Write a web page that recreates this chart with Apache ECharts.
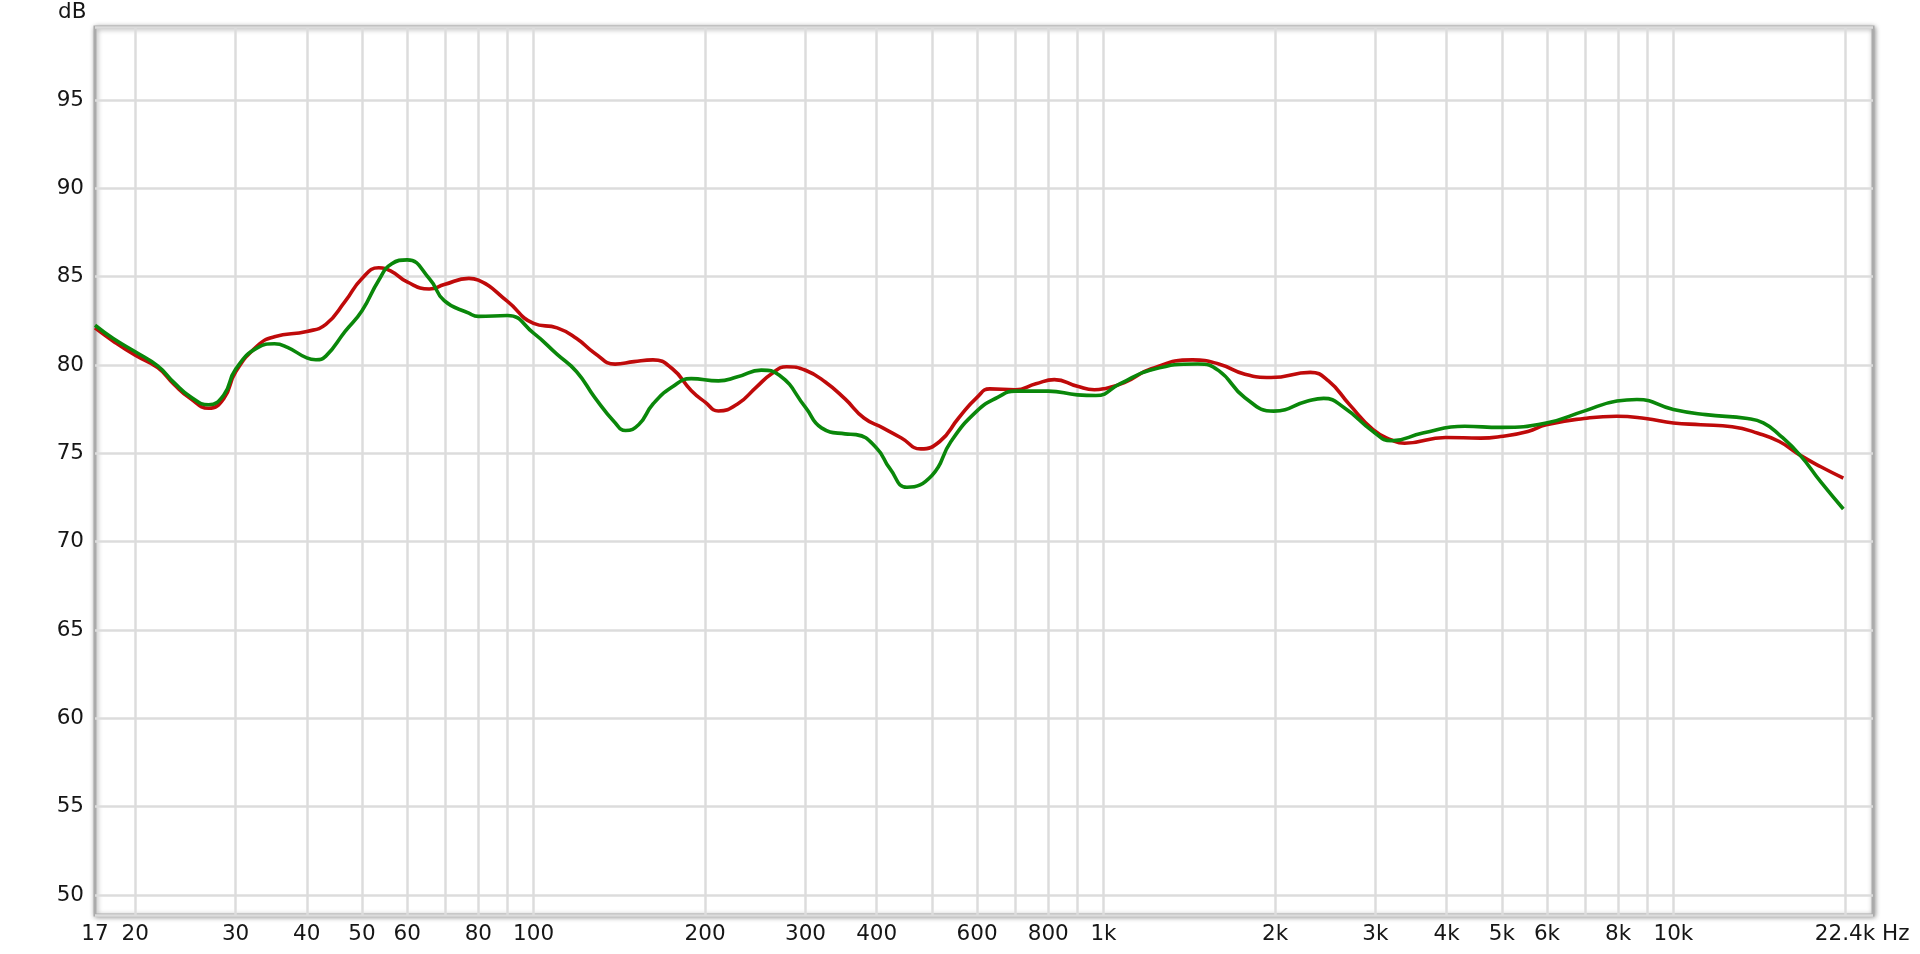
<!DOCTYPE html>
<html>
<head>
<meta charset="utf-8">
<script src="https://cdn.jsdelivr.net/npm/echarts@6/dist/echarts.min.js"></script>
<style>
html,body{margin:0;padding:0;background:#fff;}
#chart{width:1920px;height:954px;}
</style>
</head>
<body>
<div id="chart"></div>
<script>
// Frequency response data (Hz, dB)
const redFreq = [17,18.3,20,21.9,23.4,25,26.9,28.6,30,32.8,35.1,40,43.2,46.7,50,53.5,56.3,60,65.6,69.7,77,80,90,100,110,119,128,139,150,162,175,189,200,211,228,246,262,278,300,325,352,380,410,442,478,516,557,600,632,700,761,820,900,964,1000,1088,1210,1433,1593,1771,1968,2306,2482,2700,2972,3201,3376,3985,4590,4972,5555,5983,6967,7960,8937,10000,11167,12680,14070,15340,16680,18140,19870];
const redDb = [82.1,81.35,80.55,79.85,78.9,78.1,77.55,78.1,79.6,81.1,81.6,81.9,82.3,83.6,84.9,85.5,85.3,84.7,84.3,84.55,84.9,84.8,83.6,82.35,82.1,81.5,80.67,80.05,80.19,80.29,79.8,78.56,77.9,77.4,77.79,78.75,79.52,79.9,79.7,79.04,78.08,77.0,76.44,75.87,75.25,75.67,77.0,78.17,78.65,78.6,78.94,79.17,78.79,78.6,78.65,79.0,79.77,80.29,80.06,79.48,79.29,79.58,79.1,77.77,76.34,75.76,75.57,75.9,75.86,75.95,76.24,76.62,76.97,77.1,76.97,76.72,76.62,76.5,76.14,75.67,74.9,74.24,73.6];

const greenFreq = [17,18.3,20,21.9,23.4,25,26.9,28.6,30,32.8,35.1,37,40,41.5,43.2,46.7,50,53.5,56.3,60,65.6,69.7,77,80,90,100,110,119,128,139,145,153,162,175,189,211,228,251,270,300,320,352,368,400,422,452,500,540,600,652,700,800,900,970,1070,1210,1464,1593,1771,1990,2283,2434,2645,2972,3201,3633,4302,4972,5983,6967,7960,8630,10000,11400,13490,14380,15340,16680,18140,19870];
const greenDb = [82.25,81.5,80.75,79.95,79.0,78.2,77.75,78.3,79.75,80.98,81.2,81.0,80.4,80.3,80.5,81.9,83.07,84.8,85.72,85.95,84.9,83.64,82.93,82.75,82.8,81.8,80.6,79.62,78.17,76.73,76.29,76.63,77.79,78.75,79.23,79.1,79.33,79.71,79.42,77.6,76.44,76.1,76.06,75.29,74.13,73.08,73.75,75.67,77.4,78.17,78.52,78.52,78.31,78.27,78.94,79.71,80.06,79.68,78.15,77.39,77.96,78.11,77.58,76.24,75.71,76.15,76.53,76.47,76.72,77.39,77.96,78.05,77.48,77.19,76.97,76.72,76.05,74.9,73.38,71.85];

// Axis ticks
const gridFreqs = [20,30,40,50,60,70,80,90,100,200,300,400,500,600,700,800,900,1000,2000,3000,4000,5000,6000,7000,8000,9000,10000,20000];
const labelFreqs = [17,20,30,40,50,60,80,100,200,300,400,600,800,1000,2000,3000,4000,5000,6000,8000,10000,20000];
const labelTexts = ['17','20','30','40','50','60','80','100','200','300','400','600','800','1k','2k','3k','4k','5k','6k','8k','10k','22.4k'];
const xMin = 17, xMax = 22400;
const yMin = 48.87, yMax = 99.13;

const FONT = 'DejaVu Sans';
const TXT = '#161616';
const FS = 21.5;

function pairs(xs, ys){ return xs.map((x,i)=>[x, ys[i]]); }

const lineData = [];
const allFreqs = Array.from(new Set(gridFreqs.concat(labelFreqs))).sort((a,b)=>a-b);
allFreqs.forEach(f => {
  const li = labelFreqs.indexOf(f);
  const isGrid = gridFreqs.indexOf(f) >= 0;
  lineData.push({
    xAxis: f,
    lineStyle: { color: isGrid ? '#dcdcdc' : 'rgba(0,0,0,0)', width: 2.5, type: 'solid' },
    label: li >= 0 ? {
      show: true, formatter: labelTexts[li], position: 'start', distance: 8,
      color: TXT, fontSize: FS, fontFamily: FONT
    } : { show: false }
  });
});

const chart = echarts.init(document.getElementById('chart'), null, {renderer: 'canvas'});
chart.setOption({
  animation: false,
  backgroundColor: '#ffffff',
  graphic: [{
    type: 'text', left: 58, top: 1, silent: true,
    style: {text: 'dB', fontSize: FS, fontFamily: FONT, fill: TXT}
  }],
  grid: {
    left: 95, right: 47, top: 27, bottom: 39,
    show: true, backgroundColor: '#ffffff',
    borderColor: '#ababab', borderWidth: 3,
    shadowBlur: 5, shadowColor: 'rgba(0,0,0,0.35)', shadowOffsetX: 1, shadowOffsetY: 1
  },
  xAxis: {
    type: 'log', logBase: 10, min: xMin, max: xMax,
    axisLine: {show: false}, axisTick: {show: false},
    axisLabel: {show: false}, splitLine: {show: false}, minorSplitLine: {show: false},
    name: 'Hz', nameLocation: 'end', nameGap: 9,
    nameTextStyle: {fontSize: FS, fontFamily: FONT, color: TXT, verticalAlign: 'top', align: 'left', padding: [8,0,0,0]}
  },
  yAxis: {
    type: 'value', min: yMin, max: yMax, splitNumber: 10, minInterval: 5, maxInterval: 5,
    axisLine: {show: false}, axisTick: {show: false},
    axisLabel: {fontSize: FS, fontFamily: FONT, color: TXT, margin: 11, showMinLabel: false, showMaxLabel: false},
    splitLine: {show: true, lineStyle: {color: '#dcdcdc', width: 2.5}}
  },
  series: [
    {
      type: 'line', name: 'grid', data: [], silent: true, z: 1,
      markLine: {
        silent: true, symbol: ['none','none'], z: 1, animation: false,
        data: lineData
      }
    },
    {
      type: 'line', name: 'Red', data: pairs(redFreq, redDb), smooth: 0.5,
      showSymbol: false, symbol: 'none', z: 3,
      lineStyle: {color: '#bf0a0a', width: 3.6}
    },
    {
      type: 'line', name: 'Green', data: pairs(greenFreq, greenDb), smooth: 0.5,
      showSymbol: false, symbol: 'none', z: 4,
      lineStyle: {color: '#0a870a', width: 3.6}
    }
  ]
});
</script>
</body>
</html>
